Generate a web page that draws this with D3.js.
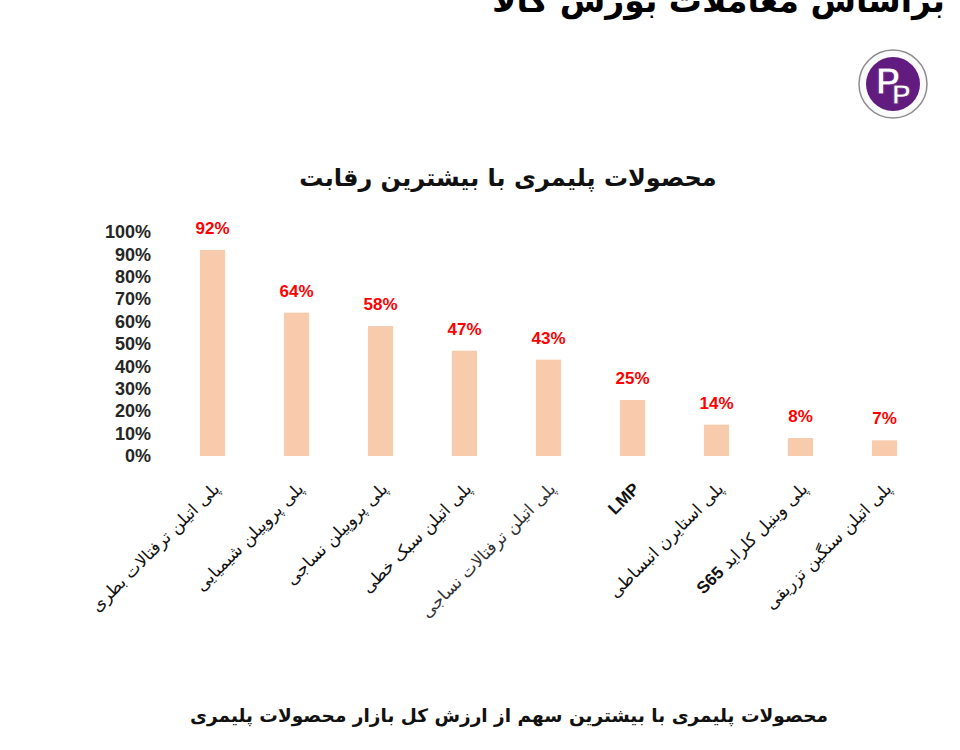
<!DOCTYPE html>
<html>
<head>
<meta charset="utf-8">
<script src="https://cdn.jsdelivr.net/npm/d3@7"></script>
<style>
  body { margin: 0; background: #fff; }
</style>
</head>
<body>
<script>
/*
 * Chart data
 */
const categories = [
  "پلی اتیلن ترفتالات بطری",
  "پلی پروپیلن شیمیایی",
  "پلی پروپیلن نساجی",
  "پلی اتیلن سبک خطی",
  "پلی اتیلن ترفتالات نساجی",
  "LMP",
  "پلی استایرن انبساطی",
  "پلی وینیل کلراید S65",
  "پلی اتیلن سنگین تزریقی"
];
const shares = [0.92, 0.64, 0.58, 0.47, 0.43, 0.25, 0.14, 0.08, 0.07];
const yTicks = [0, 0.1, 0.2, 0.3, 0.4, 0.5, 0.6, 0.7, 0.8, 0.9, 1];

const pageTitle = "براساس معاملات بورس کالا";
const chartTitle = "محصولات پلیمری با بیشترین رقابت";
const caption = "محصولات پلیمری با بیشترین سهم از ارزش کل بازار محصولات پلیمری";

const svgWidth = 960,
  svgHeight = 750;

const fa = "'DejaVu Sans', sans-serif";
const latin = "'Liberation Sans', Arial, sans-serif";

/*
 * Scales
 */
const xScale = d3.scaleBand()
  .domain(categories)
  .range([170.5, 926.5])
  .paddingInner(0.7)
  .paddingOuter(0.35);

const yScale = d3.scaleLinear()
  .domain([0, 1])
  .range([456, 232]);

const pct = d3.format(".0%");

const svg = d3.select('body')
  .append('svg')
  .attr('width', svgWidth)
  .attr('height', svgHeight);

/*
 * Header: page title (cropped at the top, as in the slide) and logo
 */
svg.append('text')
  .attr('x', 945)
  .attr('y', 12)
  .attr('direction', 'rtl')
  .attr('text-anchor', 'start')
  .style('font-family', fa)
  .style('font-weight', 'bold')
  .style('font-size', '33px')
  .text(pageTitle);

const logo = svg.append('g')
  .attr('transform', 'translate(893,84)');
logo.append('circle')
  .attr('r', 34)
  .attr('fill', '#fafafa')
  .attr('stroke', '#8c8c8c')
  .attr('stroke-width', 1.5);
logo.append('circle')
  .attr('r', 27)
  .attr('fill', '#621b7e');
const logoText = logo.append('text')
  .attr('x', -17)
  .attr('y', 10)
  .style('font-family', latin)
  .style('font-weight', 'bold')
  .attr('fill', '#fff')
  .attr('stroke', '#621b7e')
  .attr('stroke-width', 0.8);
logoText.append('tspan')
  .style('font-size', '36px')
  .text('P');
logoText.append('tspan')
  .attr('dx', -8)
  .attr('dy', 10)
  .style('font-size', '28px')
  .text('P');

/*
 * Chart title
 */
svg.append('text')
  .attr('x', 508)
  .attr('y', 186)
  .attr('direction', 'rtl')
  .attr('text-anchor', 'middle')
  .style('font-family', fa)
  .style('font-weight', 'bold')
  .style('font-size', '24px')
  .attr('fill', '#111')
  .text(chartTitle);

/*
 * Y axis (labels only)
 */
const yAxis = svg.append('g')
  .attr('transform', 'translate(155,0)')
  .call(d3.axisLeft(yScale)
    .tickValues(yTicks)
    .tickFormat(pct)
    .tickSize(0)
    .tickPadding(4));
yAxis.select('.domain').remove();
yAxis.selectAll('text')
  .style('font-family', latin)
  .style('font-weight', 'bold')
  .style('font-size', '18px')
  .attr('fill', '#262626');

/*
 * Bars and value labels
 */
const rows = categories.map((c, i) => ({ name: c, value: shares[i] }));

svg.append('g').selectAll('rect')
  .data(rows)
  .enter().append('rect')
  .attr('x', d => xScale(d.name))
  .attr('y', d => yScale(d.value))
  .attr('width', xScale.bandwidth())
  .attr('height', d => yScale(0) - yScale(d.value))
  .attr('fill', '#f8cbad');

svg.append('g').selectAll('text')
  .data(rows)
  .enter().append('text')
  .attr('x', d => xScale(d.name) + xScale.bandwidth() / 2)
  .attr('y', d => yScale(d.value) - 16)
  .attr('text-anchor', 'middle')
  .style('font-family', latin)
  .style('font-weight', 'bold')
  .style('font-size', '17px')
  .attr('fill', '#ff0000')
  .text(d => pct(d.value));

/*
 * Rotated category labels
 */
const xLabels = svg.append('g').selectAll('text')
  .data(rows)
  .enter().append('text')
  .attr('transform', d => {
    const cx = xScale(d.name) + xScale.bandwidth() / 2 + 8;
    return `translate(${cx},490) rotate(-45)`;
  })
  .attr('direction', 'rtl')
  .attr('text-anchor', 'start')
  .style('font-family', fa)
  .style('font-size', '17px')
  .attr('fill', (d, i) => i === 4 ? '#333' : '#111');

xLabels.each(function(d) {
  const parts = d.name.split(/([A-Za-z0-9]+)/).filter(p => p.length);
  const t = d3.select(this);
  parts.forEach(p => {
    const isLatin = /[A-Za-z0-9]/.test(p);
    t.append('tspan')
      .text(p)
      .style('font-family', isLatin ? latin : fa)
      .style('font-weight', isLatin ? 'bold' : 'normal');
  });
});

/*
 * Bottom caption
 */
svg.append('text')
  .attr('x', 509)
  .attr('y', 722)
  .attr('direction', 'rtl')
  .attr('text-anchor', 'middle')
  .style('font-family', fa)
  .style('font-weight', 'bold')
  .style('font-size', '18.5px')
  .attr('fill', '#111')
  .text(caption);
</script>
</body>
</html>
